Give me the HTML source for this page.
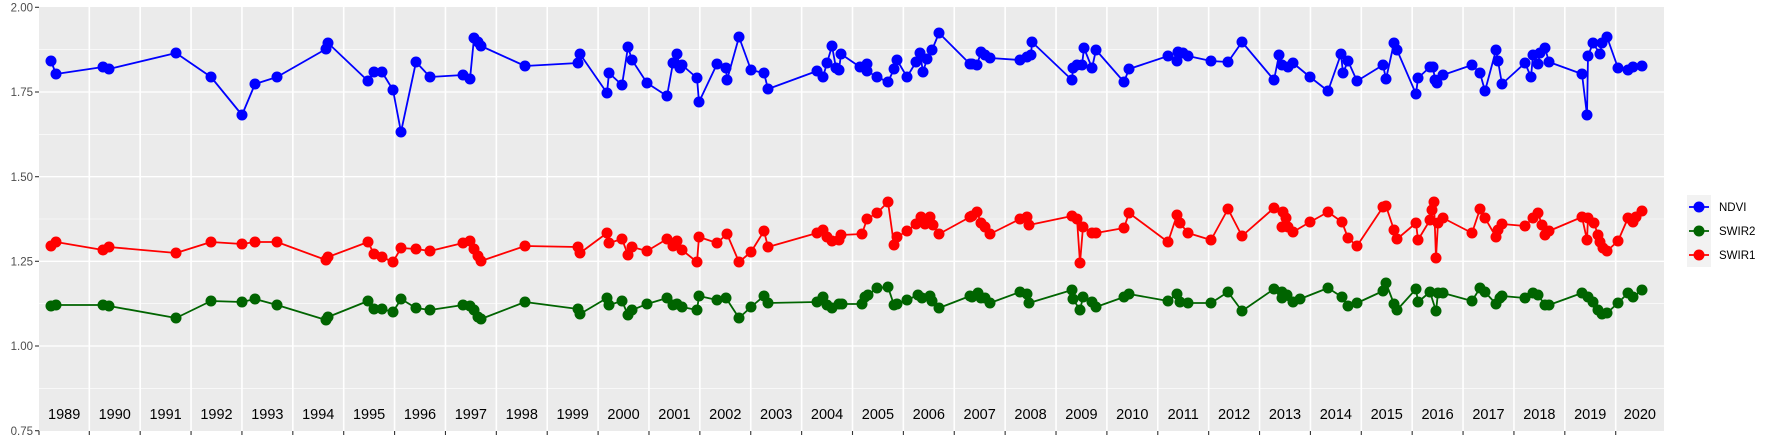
<!DOCTYPE html>
<html><head><meta charset="utf-8"><style>
html,body{margin:0;padding:0;background:#fff;}
svg{display:block;font-family:"Liberation Sans",sans-serif;}
</style></head><body>
<svg width="1773" height="442" viewBox="0 0 1773 442" xmlns="http://www.w3.org/2000/svg">
<rect x="39" y="7" width="1625" height="424" fill="#ebebeb"/>
<g stroke="#fff" stroke-width="0.6">
<line x1="39" x2="1664" y1="49.6" y2="49.6"/><line x1="39" x2="1664" y1="134.4" y2="134.4"/>
<line x1="39" x2="1664" y1="219" y2="219"/><line x1="39" x2="1664" y1="303.7" y2="303.7"/>
<line x1="39" x2="1664" y1="388.4" y2="388.4"/>
</g>
<g stroke="#fff" stroke-width="1.3">
<line x1="39" x2="1664" y1="92" y2="92"/><line x1="39" x2="1664" y1="176.7" y2="176.7"/>
<line x1="39" x2="1664" y1="261.3" y2="261.3"/><line x1="39" x2="1664" y1="346" y2="346"/>
</g>
<g id="vg" stroke="#fff" stroke-width="1.6"></g>
<g id="ticks" stroke="#333" stroke-width="1.1"></g>
<g font-size="11.5" fill="#4d4d4d" text-anchor="end">
<text x="33" y="11.5">2.00</text><text x="33" y="96">1.75</text><text x="33" y="181">1.50</text>
<text x="33" y="265.5">1.25</text><text x="33" y="350">1.00</text><text x="33" y="435">0.75</text>
</g>
<g stroke="#333" stroke-width="1.1">
<line x1="35" x2="39" y1="7.3" y2="7.3"/><line x1="35" x2="39" y1="92" y2="92"/>
<line x1="35" x2="39" y1="176.7" y2="176.7"/><line x1="35" x2="39" y1="261.3" y2="261.3"/>
<line x1="35" x2="39" y1="346" y2="346"/><line x1="35" x2="39" y1="430.7" y2="430.7"/>
<line x1="39" x2="39" y1="431" y2="435"/>
</g>
<g id="years" font-size="14.5" fill="#000" text-anchor="middle"></g>
<g id="series"></g>
<rect x="1687" y="195" width="24" height="72" fill="#f2f2f2"/>
<g stroke-width="1.8">
<line x1="1689" x2="1709" y1="207" y2="207" stroke="#0000ff"/><circle cx="1699" cy="207" r="5.5" fill="#0000ff"/>
<line x1="1689" x2="1709" y1="231" y2="231" stroke="#006400"/><circle cx="1699" cy="231" r="5.5" fill="#006400"/>
<line x1="1689" x2="1709" y1="255" y2="255" stroke="#ff0000"/><circle cx="1699" cy="255" r="5.5" fill="#ff0000"/>
</g>
<g font-size="11.5" fill="#000">
<text x="1719" y="211">NDVI</text><text x="1719" y="235">SWIR2</text><text x="1719" y="259">SWIR1</text>
</g>
</svg>
<script>
var NS="http://www.w3.org/2000/svg";
function el(t,a,p){var e=document.createElementNS(NS,t);for(var k in a)e.setAttribute(k,a[k]);p.appendChild(e);return e;}
var vg=document.getElementById("vg"),tk=document.getElementById("ticks"),yr=document.getElementById("years");
for(var k=0;k<31;k++){var x=89.3+50.88*k;el("line",{x1:x,x2:x,y1:7,y2:431},vg);el("line",{x1:x,x2:x,y1:431,y2:435},tk);}
for(var k=0;k<32;k++){var l=Math.max(39,38.4+50.88*k),r=Math.min(1664,38.4+50.88*(k+1));var t=el("text",{x:(l+r)/2,y:419},yr);t.textContent=1989+k;}
var N="51,61 56,74 103,67 109,69 176,53 211,77 242,115 255,84 277,77 326,49 328,43 368,81 374,72 382,72 393,90 401,132 416,62 430,77 463,75 470,79 474,38 478,42 481,46 525,66 578,63 580,54 607,93 609,73 622,85 628,47 632,60 647,83 667,96 673,63 677,54 680,68 682,65 697,78 699,102 717,64 726,68 727,80 739,37 751,70 764,73 768,89 817,71 823,77 827,63 832,46 836,68 839,70 841,54 860,67 867,64 867,71 877,77 888,82 894,69 897,60 907,77 916,62 920,53 923,72 927,59 932,50 939,33 970,64 972,64 977,65 981,52 985,55 990,58 1020,60 1027,57 1031,55 1032,42 1072,80 1073,68 1077,65 1082,65 1084,48 1092,68 1096,50 1124,82 1129,69 1168,56 1177,61 1178,52 1183,53 1188,56 1211,61 1228,62 1242,42 1274,80 1279,55 1282,65 1288,67 1293,63 1310,77 1328,91 1341,54 1343,73 1348,61 1357,81 1383,65 1386,79 1394,43 1397,50 1416,94 1418,78 1430,67 1433,67 1435,80 1437,83 1443,75 1472,65 1480,73 1485,91 1496,50 1498,61 1502,84 1525,63 1531,77 1533,55 1538,64 1540,53 1545,48 1549,62 1582,74 1587,115 1588,56 1593,43 1600,54 1602,43 1607,37 1618,68 1628,70 1633,67 1642,66";
var S1="51,246 56,242 103,250 109,247 176,253 211,242 242,244 255,242 277,242 326,260 328,257 368,242 374,254 382,257 393,262 401,248 416,249 430,251 463,243 470,241 474,249 478,256 481,261 525,246 578,247 580,253 607,233 609,243 622,239 628,255 632,247 647,251 667,239 673,246 677,241 682,250 697,262 699,237 717,243 727,234 739,262 751,252 764,231 768,247 817,233 823,230 827,237 832,241 839,240 841,235 862,234 867,219 877,213 888,202 894,245 897,237 907,231 916,224 921,217 925,224 930,217 933,225 939,234 970,217 972,216 977,212 981,223 985,227 990,234 1020,219 1027,217 1029,225 1072,216 1077,219 1080,263 1083,227 1092,233 1096,233 1124,228 1129,213 1168,242 1177,215 1180,223 1188,233 1211,240 1228,209 1242,236 1274,208 1283,212 1286,218 1282,227 1288,227 1293,232 1310,222 1328,212 1342,222 1348,238 1357,246 1383,207 1386,206 1394,230 1397,239 1416,223 1418,240 1430,220 1432,210 1434,202 1436,258 1438,223 1443,218 1472,233 1480,209 1485,218 1496,237 1498,230 1502,224 1525,226 1533,218 1538,213 1542,225 1545,235 1549,231 1582,217 1587,240 1588,218 1594,223 1598,235 1600,242 1603,248 1607,251 1618,241 1628,218 1633,222 1636,217 1642,211";
var S2="51,306 56,305 103,305 109,306 176,318 211,301 242,302 255,299 277,305 326,320 328,317 368,301 374,309 382,309 393,312 401,299 416,308 430,310 463,305 470,306 474,310 478,317 481,319 525,302 578,309 580,314 607,298 609,305 622,301 628,315 632,310 647,304 667,298 673,305 677,304 682,307 697,310 699,296 717,300 726,298 739,318 751,307 764,296 768,303 817,302 823,297 827,305 832,308 839,304 842,304 862,304 865,297 868,295 877,288 888,287 894,305 897,304 907,300 918,295 922,298 930,296 932,301 939,308 970,296 972,297 978,293 981,298 985,298 990,303 1020,292 1027,294 1029,303 1072,290 1073,299 1080,310 1083,297 1092,302 1096,307 1124,297 1129,294 1168,301 1177,294 1180,302 1188,303 1211,303 1228,292 1242,311 1274,289 1282,292 1287,295 1282,298 1293,302 1300,299 1328,288 1342,297 1348,306 1357,303 1383,291 1386,283 1394,304 1397,310 1416,289 1418,302 1430,292 1436,311 1438,293 1443,293 1472,301 1480,288 1485,292 1496,304 1500,298 1502,296 1525,298 1533,293 1538,295 1545,305 1549,305 1582,293 1588,297 1593,302 1598,310 1602,314 1607,313 1618,303 1628,293 1633,297 1642,290";
var g=document.getElementById("series");
[[N,"#0000ff"],[S2,"#006400"],[S1,"#ff0000"]].forEach(function(s){
el("polyline",{points:s[0],fill:"none",stroke:s[1],"stroke-width":1.8,"stroke-linejoin":"round"},g);
s[0].split(" ").forEach(function(p){var c=p.split(",");el("circle",{cx:c[0],cy:c[1],r:5.5,fill:s[1]},g);});
});
</script>
</body></html>
